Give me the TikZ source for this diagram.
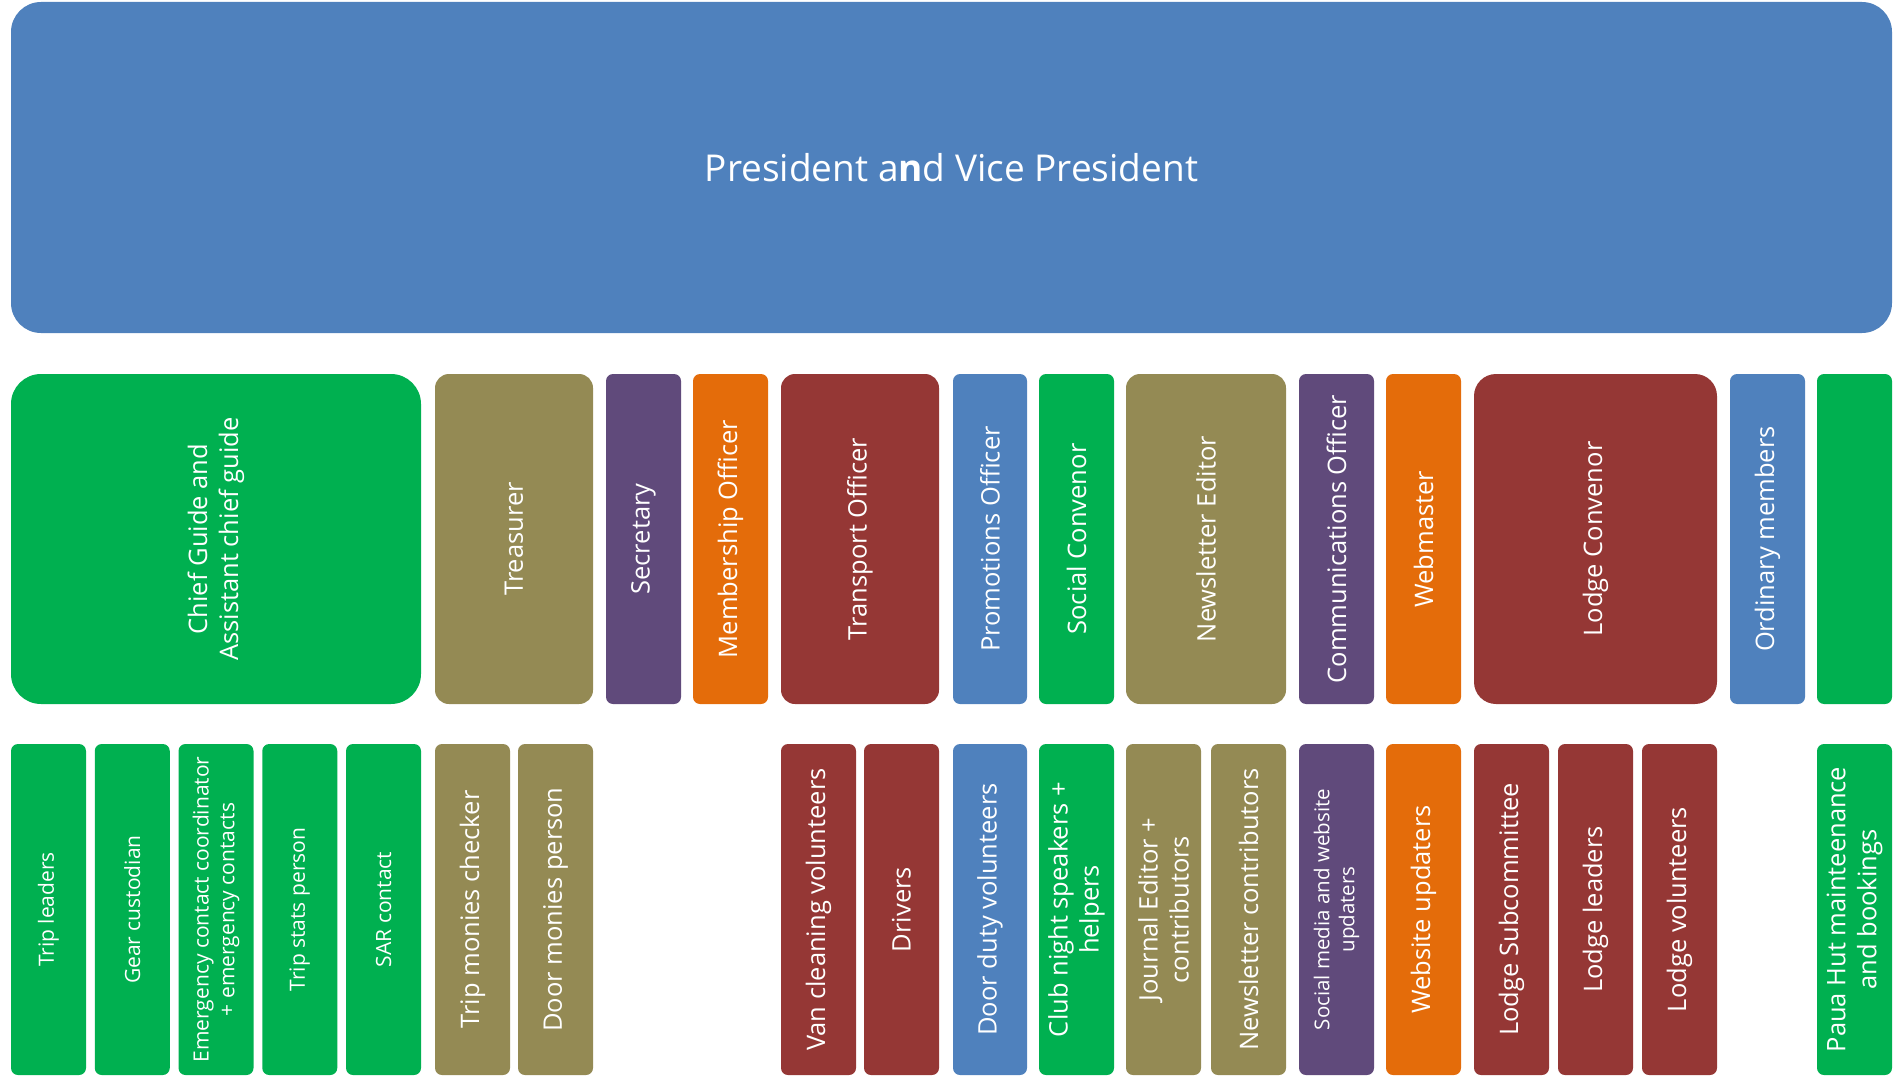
\documentclass[tikz,border=0pt]{standalone}
\usepackage{fontspec}
\setmainfont{Open Sans}
\definecolor{cblue}{HTML}{4F81BD}
\definecolor{cgreen}{HTML}{00B050}
\definecolor{colive}{HTML}{948A54}
\definecolor{cpurple}{HTML}{604A7B}
\definecolor{corange}{HTML}{E46C0A}
\definecolor{cred}{HTML}{953735}
\tikzset{
  unitbox/.style={draw=none, text=white, align=center, inner sep=0pt, rotate=90},
}
% name, fill, radius, x1, x2, y1, y2, fontsize, text
\newcommand{\orgbox}[9]{%
  \pgfmathsetmacro\bcx{(#4+#5)/2}%
  \pgfmathsetmacro\bcy{-(#6+#7)/2}%
  \pgfmathsetmacro\bw{#5-#4}%
  \pgfmathsetmacro\bh{#7-#6}%
  \pgfmathsetmacro\bls{#8*1.22}%
  \node[unitbox, fill=#2, rounded corners=#3pt, minimum width=\bh pt, minimum height=\bw pt,
        font=\fontsize{#8}{\bls}\selectfont] (#1) at (\bcx pt,\bcy pt) {#9};%
}
\begin{document}
\begin{tikzpicture}
\useasboundingbox (0,0) rectangle (1893pt,-1078pt);
\node[fill=cblue, rounded corners=30pt, minimum width=1881pt, minimum height=331pt,
      inner sep=0pt, text=white, font=\fontsize{37}{44}\selectfont] (pres) at (951.5pt,-167.5pt)
      {President a{\bfseries n}d Vice President};
% row 2
\orgbox{chief}{cgreen}{30}{11}{421}{374}{704}{25.5}{Chief Guide and\\Assistant chief guide}
\orgbox{treas}{colive}{14}{435}{593}{374}{704}{25.5}{Treasurer}
\orgbox{sec}{cpurple}{7}{606}{681}{374}{704}{25.5}{Secretary}
\orgbox{memb}{corange}{7}{693}{768}{374}{704}{25.5}{Membership Officer}
\orgbox{trans}{cred}{14}{781}{939}{374}{704}{25.5}{Transport Officer}
\orgbox{promo}{cblue}{7}{953}{1027}{374}{704}{25.5}{Promotions Officer}
\orgbox{social}{cgreen}{7}{1039}{1114}{374}{704}{25.5}{Social Convenor}
\orgbox{newsed}{colive}{14}{1126}{1286}{374}{704}{25.5}{Newsletter Editor}
\orgbox{comms}{cpurple}{7}{1299}{1374}{374}{704}{25.5}{Communications Officer}
\orgbox{web}{corange}{7}{1386}{1461}{374}{704}{25.5}{Webmaster}
\orgbox{lodge}{cred}{22}{1474}{1717}{374}{704}{25.5}{Lodge Convenor}
\orgbox{ordinary}{cblue}{7}{1730}{1805}{374}{704}{25.5}{Ordinary members}
\orgbox{paua}{cgreen}{7}{1817}{1892}{374}{704}{25.5}{}
% row 3
\orgbox{tripl}{cgreen}{7}{11}{86}{744}{1075}{21}{Trip leaders}
\orgbox{gear}{cgreen}{7}{94.75}{169.75}{744}{1075}{21}{Gear custodian}
\orgbox{emerg}{cgreen}{7}{178.5}{253.5}{744}{1075}{21}{Emergency contact coordinator\\+ emergency contacts}
\orgbox{tstats}{cgreen}{7}{262.25}{337.25}{744}{1075}{21}{Trip stats person}
\orgbox{sar}{cgreen}{7}{346}{421}{744}{1075}{21}{SAR contact}
\orgbox{tmon}{colive}{7}{435}{510}{744}{1075}{25.5}{Trip monies checker}
\orgbox{dmon}{colive}{7}{518}{593}{744}{1075}{25.5}{Door monies person}
\orgbox{van}{cred}{7}{781}{856}{744}{1075}{25.5}{Van cleaning volunteers}
\orgbox{drivers}{cred}{7}{864}{939}{744}{1075}{25.5}{Drivers}
\orgbox{doorduty}{cblue}{7}{953}{1027}{744}{1075}{25.5}{Door duty volunteers}
\orgbox{club}{cgreen}{7}{1039}{1114}{744}{1075}{25.5}{Club night speakers +\\helpers}
\orgbox{journal}{colive}{7}{1126}{1201}{744}{1075}{25.5}{Journal Editor +\\contributors}
\orgbox{newsc}{colive}{7}{1211}{1286}{744}{1075}{25.5}{Newsletter contributors}
\orgbox{socmed}{cpurple}{7}{1299}{1374}{744}{1075}{20.5}{Social media and website\\updaters}
\orgbox{webup}{corange}{7}{1386}{1461}{744}{1075}{25.5}{Website updaters}
\orgbox{lsub}{cred}{7}{1474}{1549}{744}{1075}{25.5}{Lodge Subcommittee}
\orgbox{lleaders}{cred}{7}{1558}{1633}{744}{1075}{25.5}{Lodge leaders}
\orgbox{lvol}{cred}{7}{1642}{1717}{744}{1075}{25.5}{Lodge volunteers}
\orgbox{pauahut}{cgreen}{7}{1817}{1892}{744}{1075}{25.5}{Paua Hut mainteenance\\and bookings}
\end{tikzpicture}
\end{document}
